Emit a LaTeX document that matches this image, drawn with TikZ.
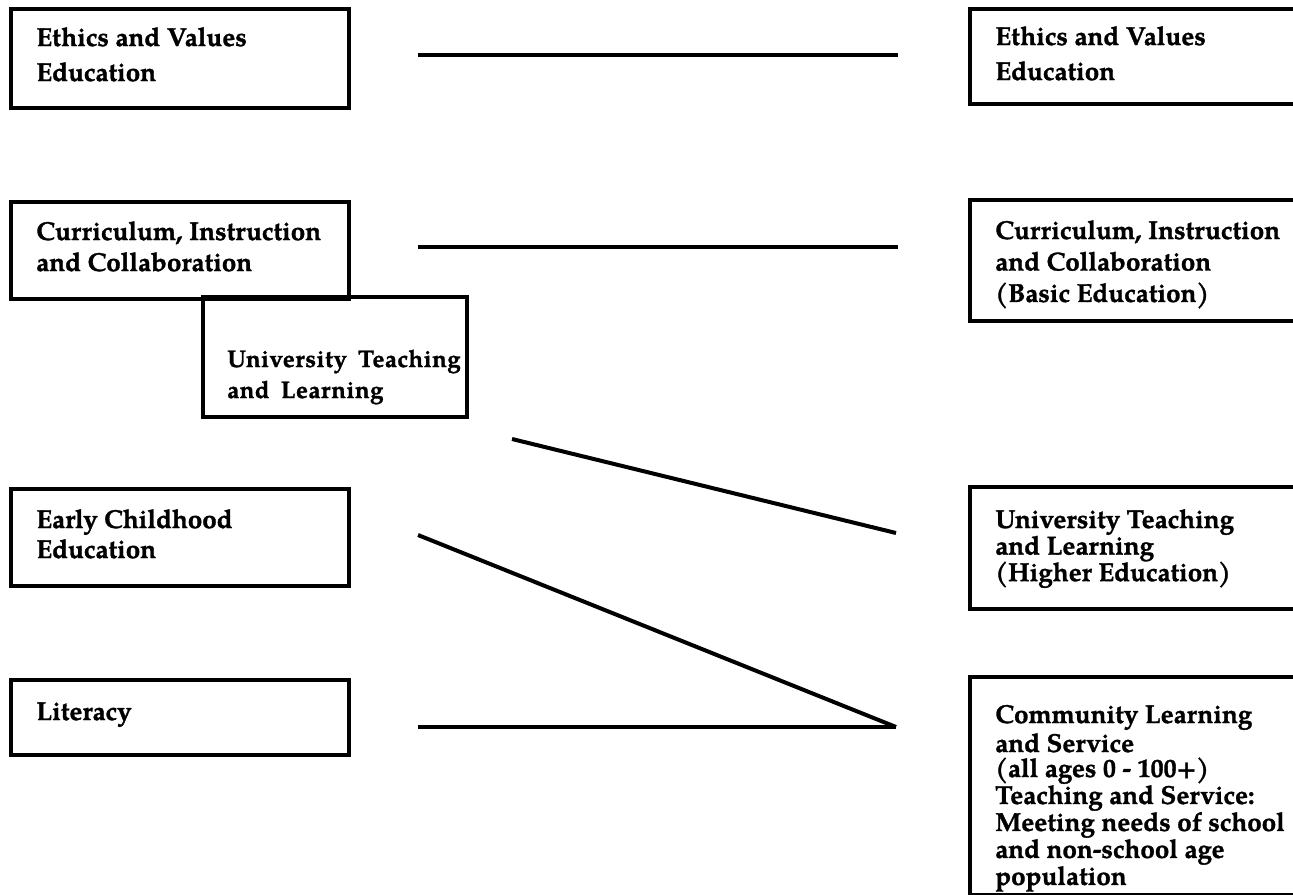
\documentclass[tikz,border=0pt]{standalone}
\usepackage{fontspec}
\setmainfont{TeX Gyre Pagella}[BoldFeatures={FakeBold=1.2}]
\newcommand{\boxtext}[2]{\parbox[t]{12cm}{\raggedright\bfseries\fontsize{19.5}{#1}\selectfont #2}}
\newcommand{\smalltext}[2]{\parbox[t]{12cm}{\raggedright\bfseries\fontsize{18}{#1}\selectfont\addfontfeature{LetterSpace=2} #2}}
\begin{document}
\begin{tikzpicture}[x=0.75pt,y=-0.75pt,
  box/.style={draw=black, line width=3pt, rectangle, inner sep=0pt, anchor=north west},
  lbl/.style={inner sep=0pt, anchor=base west, text=black},
  link/.style={draw=black, line width=3pt}]
\clip (0,0) rectangle (1293,895);
\fill[white] (0,0) rectangle (1293,895);
% left column boxes
\node[box, minimum width=338*0.75pt, minimum height=99*0.75pt] (l1) at (9,7) {};
\node[box, minimum width=338*0.75pt, minimum height=97*0.75pt] (l2) at (9,200) {};
\node[box, minimum width=264*0.75pt, minimum height=120*0.75pt] (lu) at (201,295) {};
\node[box, minimum width=338*0.75pt, minimum height=97*0.75pt] (l3) at (9,487) {};
\node[box, minimum width=338*0.75pt, minimum height=75*0.75pt] (l4) at (9,678) {};
% right column boxes
\node[box, minimum width=400*0.75pt, minimum height=95*0.75pt] (r1) at (968,7) {};
\node[box, minimum width=400*0.75pt, minimum height=121*0.75pt] (r2) at (968,198) {};
\node[box, minimum width=400*0.75pt, minimum height=122*0.75pt] (r3) at (968,485) {};
\node[box, minimum width=400*0.75pt, minimum height=218*0.75pt] (r4) at (968,675) {};
% texts
\node[lbl] (tl1) at (36,46) {\boxtext{26.25}{Ethics and Values\\Education}};
\node[lbl] (tl2) at (36,240) {\boxtext{23.25}{Curriculum, Instruction\\and Collaboration}};
\node[lbl] (tlu) at (227,367) {\smalltext{23.25}{University\hspace{0.2em}\ Teaching\\and\hspace{0.2em}\ Learning}};
\node[lbl] (tl3) at (36,528) {\boxtext{22.5}{Early Childhood\\Education}};
\node[lbl] (tl4) at (36,720) {\boxtext{22.5}{Literacy}};
\node[lbl] (tr1) at (995,45) {\boxtext{26.25}{Ethics and Values\\Education}};
\node[lbl] (tr2) at (995,239) {\boxtext{23.6}{Curriculum, Instruction\\and Collaboration\\(Basic Education)}};
\node[lbl] (tr3) at (995,528) {\boxtext{19.9}{University Teaching\\and Learning\\(Higher Education)}};
\node[lbl] (tr4) at (995,723) {\boxtext{18.75}{Community Learning\\[1.5pt]and Service\\(all ages 0 - 100+)\\Teaching and Service:\\Meeting needs of school\\and non-school age\\population}};
% connector ends
\coordinate (a1) at (418,55);  \coordinate (b1) at (898,55);
\coordinate (a2) at (418,247); \coordinate (b2) at (898,247);
\coordinate (a3) at (512,439); \coordinate (b3) at (896,533);
\coordinate (a4) at (418,535); \coordinate (m)  at (896,727);
\coordinate (a5) at (418,727);
\draw[link] (a1) -- (b1);
\draw[link] (a2) -- (b2);
\draw[link] (a3) -- (b3);
\draw[link] (a4) -- (m);
\draw[link] (a5) -- (m);
\end{tikzpicture}
\end{document}
